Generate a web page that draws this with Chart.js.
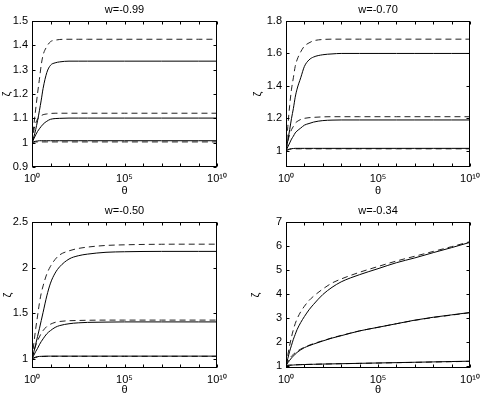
<!DOCTYPE html>
<html>
<head>
<meta charset="utf-8">
<script src="https://cdn.jsdelivr.net/npm/chart.js@4"></script>
<style>
  body { margin: 0; background: #fff; }
  #wrap { position: relative; width: 485px; height: 398px; }
  canvas { position: absolute; }
</style>
</head>
<body>
<div id="wrap">
  <canvas id="c099" width="243" height="199" style="left:0;top:0"></canvas>
  <canvas id="c070" width="242" height="199" style="left:243px;top:0"></canvas>
  <canvas id="c050" width="243" height="197" style="left:0;top:201px"></canvas>
  <canvas id="c034" width="242" height="197" style="left:243px;top:201px"></canvas>
</div>
<script>
// valores de theta (eje x logaritmico)
const theta = [1, 1.259, 1.585, 1.995, 2.512, 3.162, 3.981, 6.31, 10, 17.78, 31.62, 100, 316.2, 1e3, 1e4, 1e5, 1e6, 1e7, 1e8, 1e9, 1e10];

// w = -0.99
const w099_solidHi  = [1, 1.024, 1.054, 1.09, 1.131, 1.175, 1.223, 1.288, 1.318, 1.328, 1.332, 1.335, 1.335, 1.335, 1.335, 1.335, 1.335, 1.335, 1.335, 1.335, 1.335];
const w099_dashHi   = [1, 1.072, 1.138, 1.202, 1.26, 1.32, 1.36, 1.395, 1.415, 1.421, 1.424, 1.425, 1.425, 1.425, 1.425, 1.425, 1.425, 1.425, 1.425, 1.425, 1.425];
const w099_solidMid = [1, 1.016, 1.032, 1.046, 1.057, 1.067, 1.076, 1.088, 1.096, 1.099, 1.1, 1.101, 1.101, 1.101, 1.101, 1.101, 1.101, 1.101, 1.101, 1.101, 1.101];
const w099_dashMid  = [1, 1.05, 1.08, 1.097, 1.105, 1.111, 1.115, 1.118, 1.12, 1.121, 1.121, 1.121, 1.121, 1.121, 1.121, 1.121, 1.121, 1.121, 1.121, 1.121, 1.121];
const w099_solidLo  = [1, 1.004, 1.006, 1.007, 1.008, 1.008, 1.008, 1.008, 1.008, 1.008, 1.008, 1.008, 1.008, 1.008, 1.008, 1.008, 1.008, 1.008, 1.008, 1.008, 1.008];
const w099_dashLo   = [1, 1.002, 1.003, 1.003, 1.003, 1.003, 1.003, 1.003, 1.003, 1.003, 1.003, 1.003, 1.003, 1.003, 1.003, 1.003, 1.003, 1.003, 1.003, 1.003, 1.003];

// w = -0.70
const w070_solidHi  = [1, 1.064, 1.13, 1.2, 1.26, 1.33, 1.38, 1.45, 1.52, 1.56, 1.578, 1.592, 1.597, 1.6, 1.6, 1.6, 1.6, 1.6, 1.6, 1.6, 1.6];
const w070_dashHi   = [1, 1.15, 1.28, 1.38, 1.45, 1.52, 1.56, 1.61, 1.645, 1.665, 1.678, 1.686, 1.688, 1.688, 1.688, 1.688, 1.688, 1.688, 1.688, 1.688, 1.688];
const w070_solidMid = [1, 1.024, 1.048, 1.072, 1.09, 1.11, 1.122, 1.14, 1.158, 1.168, 1.177, 1.186, 1.189, 1.19, 1.19, 1.19, 1.19, 1.19, 1.19, 1.19, 1.19];
const w070_dashMid  = [1, 1.058, 1.1, 1.13, 1.15, 1.17, 1.18, 1.193, 1.2, 1.204, 1.206, 1.209, 1.21, 1.21, 1.21, 1.21, 1.21, 1.21, 1.21, 1.21, 1.21];
const w070_solidLo  = [1, 1.007, 1.011, 1.013, 1.014, 1.015, 1.015, 1.015, 1.015, 1.015, 1.015, 1.015, 1.015, 1.015, 1.015, 1.015, 1.015, 1.015, 1.015, 1.015, 1.015];
const w070_dashLo   = [1, 1.005, 1.009, 1.011, 1.012, 1.012, 1.012, 1.012, 1.012, 1.012, 1.012, 1.012, 1.012, 1.012, 1.012, 1.012, 1.012, 1.012, 1.012, 1.012, 1.012];

// w = -0.50
const w050_solidHi  = [1, 1.077, 1.16, 1.245, 1.33, 1.42, 1.51, 1.69, 1.83, 1.94, 2.01, 2.094, 2.13, 2.148, 2.168, 2.174, 2.177, 2.178, 2.178, 2.178, 2.178];
const w050_dashHi   = [1, 1.17, 1.33, 1.47, 1.61, 1.72, 1.8, 1.93, 2.015, 2.09, 2.14, 2.184, 2.21, 2.225, 2.243, 2.25, 2.254, 2.256, 2.257, 2.257, 2.257];
const w050_solidMid = [1, 1.04, 1.08, 1.115, 1.155, 1.19, 1.22, 1.275, 1.31, 1.345, 1.365, 1.385, 1.395, 1.4, 1.403, 1.405, 1.405, 1.405, 1.405, 1.405, 1.405];
const w050_dashMid  = [1, 1.08, 1.145, 1.2, 1.24, 1.28, 1.31, 1.355, 1.38, 1.4, 1.41, 1.418, 1.421, 1.423, 1.425, 1.425, 1.425, 1.425, 1.425, 1.425, 1.425];
const w050_solidLo  = [1, 1.012, 1.02, 1.025, 1.027, 1.028, 1.029, 1.03, 1.03, 1.03, 1.03, 1.03, 1.03, 1.03, 1.03, 1.03, 1.03, 1.03, 1.03, 1.03, 1.03];
const w050_dashLo   = [1, 1.008, 1.015, 1.02, 1.023, 1.025, 1.026, 1.027, 1.028, 1.028, 1.028, 1.028, 1.028, 1.028, 1.028, 1.028, 1.028, 1.028, 1.028, 1.028, 1.028];

// w = -0.34
const w034_solidHi  = [1, 1.3, 1.6, 1.85, 2.1, 2.3, 2.5, 2.8, 3.05, 3.33, 3.56, 3.97, 4.27, 4.5, 4.8, 5.05, 5.3, 5.5, 5.72, 5.93, 6.15];
const w034_dashHi   = [1, 1.45, 1.85, 2.2, 2.5, 2.75, 2.95, 3.25, 3.48, 3.72, 3.9, 4.2, 4.45, 4.62, 4.9, 5.14, 5.37, 5.57, 5.77, 5.97, 6.18];
const w034_solidMid = [1, 1.12, 1.22, 1.32, 1.4, 1.48, 1.55, 1.66, 1.75, 1.83, 1.9, 2.03, 2.15, 2.25, 2.45, 2.6, 2.75, 2.9, 3.02, 3.12, 3.22];
const w034_dashMid  = [1, 1.18, 1.3, 1.4, 1.47, 1.54, 1.6, 1.69, 1.77, 1.85, 1.92, 2.04, 2.16, 2.26, 2.45, 2.6, 2.75, 2.89, 3.01, 3.11, 3.21];
const w034_solidLo  = [1, 1.01, 1.015, 1.02, 1.025, 1.03, 1.033, 1.04, 1.045, 1.05, 1.055, 1.065, 1.072, 1.08, 1.095, 1.11, 1.125, 1.14, 1.155, 1.17, 1.185];
const w034_dashLo   = [1, 1.012, 1.018, 1.022, 1.027, 1.031, 1.035, 1.041, 1.046, 1.051, 1.056, 1.065, 1.072, 1.079, 1.093, 1.107, 1.121, 1.135, 1.15, 1.164, 1.178];

// marcas de los ejes
const xTicks = [1, 1e1, 1e2, 1e3, 1e4, 1e5, 1e6, 1e7, 1e8, 1e9, 1e10];
const xTickLabels = {1: '10⁰', 100000: '10⁵', 10000000000: '10¹⁰'};
const yTicks099 = [0.9, 1, 1.1, 1.2, 1.3, 1.4, 1.5];
const yTicks070 = [1, 1.2, 1.4, 1.6, 1.8];
const yTicks050 = [1, 1.5, 2, 2.5];
const yTicks034 = [1, 2, 3, 4, 5, 6, 7];

const FONT = 'Liberation Sans, Arial, Helvetica, sans-serif';

// caja estilo matlab con marcas hacia dentro
const boxTicks = {
  id: 'boxTicks',
  afterDatasetsDraw(chart) {
    const {ctx, chartArea: a, scales} = chart;
    const L = 3;
    const l = Math.round(a.left) + 0.5, r = Math.round(a.right) - 0.5;
    const t = Math.round(a.top) + 0.5, b = Math.round(a.bottom) - 0.5;
    ctx.save();
    ctx.strokeStyle = '#000';
    ctx.lineWidth = 1;
    ctx.beginPath();
    scales.x.ticks.forEach(tk => {
      const px = Math.round(scales.x.getPixelForValue(tk.value)) + 0.5;
      ctx.moveTo(px, b); ctx.lineTo(px, b - L);
      ctx.moveTo(px, t); ctx.lineTo(px, t + L);
    });
    scales.y.ticks.forEach(tk => {
      const py = Math.round(scales.y.getPixelForValue(tk.value)) + 0.5;
      ctx.moveTo(l, py); ctx.lineTo(l + L, py);
      ctx.moveTo(r, py); ctx.lineTo(r - L, py);
    });
    ctx.stroke();
    ctx.strokeRect(l, t, r - l, b - t);
    ctx.restore();
  }
};

function line(values, dashed) {
  return {
    data: values.map((v, i) => ({x: theta[i], y: v})),
    borderColor: dashed ? '#222' : '#000',
    borderWidth: 1,
    borderDash: dashed ? [6, 4] : [],
    pointRadius: 0,
    fill: false,
    cubicInterpolationMode: 'monotone'
  };
}

function panel(id, title, series, yMin, yMax, yTicks, yWidth, yTitlePad, rightPad, xHeight) {
  const ctx = document.getElementById(id).getContext('2d');
  return new Chart(ctx, {
    type: 'line',
    data: {
      datasets: series
    },
    options: {
      responsive: false,
      animation: false,
      layout: { padding: { left: 0, right: rightPad, top: 0, bottom: 0 } },
      plugins: {
        legend: { display: false },
        tooltip: { enabled: false },
        title: {
          display: true,
          text: title,
          fullSize: false,
          color: '#000',
          font: { family: FONT, size: 11, weight: 'normal' },
          padding: { top: 3, bottom: 4.8 }
        }
      },
      scales: {
        x: {
          type: 'logarithmic',
          min: 1,
          max: 1e10,
          grid: { display: false, drawTicks: false },
          border: { display: false },
          afterBuildTicks: function(scale) {
            scale.ticks = xTicks.map(v => ({value: v}));
          },
          afterFit: function(scale) { scale.height = xHeight; },
          ticks: {
            autoSkip: false,
            maxRotation: 0,
            padding: 5,
            color: '#000',
            font: { family: FONT, size: 11 },
            callback: function(value) { return xTickLabels[value] || ''; }
          },
          title: {
            display: true,
            text: 'θ',
            color: '#000',
            font: { family: FONT, size: 11 },
            padding: { top: 0, bottom: 1 }
          }
        },
        y: {
          min: yMin,
          max: yMax,
          grid: { display: false, drawTicks: false },
          border: { display: false },
          afterBuildTicks: function(scale) {
            scale.ticks = yTicks.map(v => ({value: v}));
          },
          afterFit: function(scale) { scale.width = yWidth; },
          ticks: {
            padding: 4,
            color: '#000',
            font: { family: FONT, size: 11 },
            callback: function(value) { return String(value); }
          },
          title: {
            display: true,
            text: 'ζ',
            color: '#000',
            font: { family: FONT, size: 11 },
            padding: { top: yTitlePad, bottom: 0 }
          }
        }
      }
    },
    plugins: [boxTicks]
  });
}

document.addEventListener('DOMContentLoaded', function() {
  panel('c099', 'w=-0.99', [
    line(w099_solidHi, false), line(w099_dashHi, true),
    line(w099_solidMid, false), line(w099_dashMid, true),
    line(w099_solidLo, false), line(w099_dashLo, true)
  ], 0.9, 1.5, yTicks099, 32, 0, 26, 32);

  panel('c070', 'w=-0.70', [
    line(w070_solidHi, false), line(w070_dashHi, true),
    line(w070_solidMid, false), line(w070_dashMid, true),
    line(w070_solidLo, false), line(w070_dashLo, true)
  ], 0.9, 1.8, yTicks070, 43, 8, 13, 32);

  panel('c050', 'w=-0.50', [
    line(w050_solidHi, false), line(w050_dashHi, true),
    line(w050_solidMid, false), line(w050_dashMid, true),
    line(w050_solidLo, false), line(w050_dashLo, true)
  ], 0.9, 2.5, yTicks050, 32, 1, 26, 30);

  panel('c034', 'w=-0.34', [
    line(w034_solidHi, false), line(w034_dashHi, true),
    line(w034_solidMid, false), line(w034_dashMid, true),
    line(w034_solidLo, false), line(w034_dashLo, true)
  ], 0.9, 7, yTicks034, 43, 6, 13, 30);
});
</script>
</body>
</html>
